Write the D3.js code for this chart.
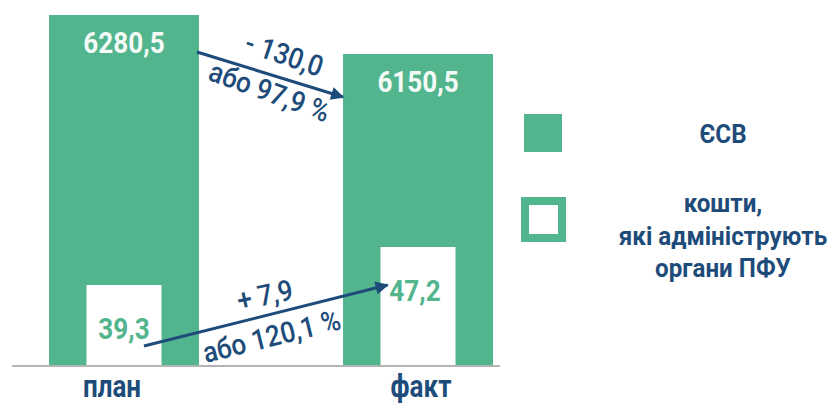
<!DOCTYPE html>
<html>
<head>
<meta charset="utf-8">
<script src="https://cdn.jsdelivr.net/npm/d3@7"></script>
<style>
  body { margin: 0; background: #fff; }
  text { font-family: "Roboto", "Liberation Sans", sans-serif; }
</style>
</head>
<body>
<div id="chart"></div>
<script>
var w = 837;
var h = 405;

var categories = ["план", "факт"];
var esvValues = [6280.5, 6150.5];
var pfuValues = [39.3, 47.2];
var esvLabels = ["6280,5", "6150,5"];
var pfuLabels = ["39,3", "47,2"];
var changeLabels = ["- 130,0", "+ 7,9"];
var percentLabels = ["або 97,9 %", "або 120,1 %"];
var legendLabels = [["ЄСВ"], ["кошти,", "які адмініструють", "органи ПФУ"]];

var green = "#52b58e";
var navy = "#1e4c7a";
var baseY = 365;
var narrow = 0.87; // the source font is a condensed one

var svg = d3.select("#chart")
	.append("svg")
	.attr("width", w)
	.attr("height", h);

// band scale for the two columns
var xScale = d3.scaleBand()
	.domain(categories)
	.range([49, 493])
	.paddingInner(0.49)
	.paddingOuter(0);

// the picture is not drawn from zero, so each series gets a cut scale
var yEsv = d3.scaleLinear()
	.domain([5114, 6280.5])
	.range([baseY, 15]);

var yPfu = d3.scaleLinear()
	.domain([22.67, 47.2])
	.range([baseY, 247]);

var bw = xScale.bandwidth();

function tr(x, y, sx) {
	return "translate(" + x + "," + y + ") scale(" + sx + ",1)";
}

svg.selectAll("rect.esv")
	.data(esvValues)
	.enter()
	.append("rect")
	.attr("class", "esv")
	.attr("x", function (d, i) { return xScale(categories[i]); })
	.attr("y", function (d) { return yEsv(d); })
	.attr("width", bw)
	.attr("height", function (d) { return baseY - yEsv(d); })
	.attr("fill", green);

svg.selectAll("rect.pfu")
	.data(pfuValues)
	.enter()
	.append("rect")
	.attr("class", "pfu")
	.attr("x", function (d, i) { return xScale(categories[i]) + bw / 4; })
	.attr("y", function (d) { return yPfu(d); })
	.attr("width", bw / 2)
	.attr("height", function (d) { return baseY - yPfu(d); })
	.attr("fill", "#fff");

// baseline
svg.append("line")
	.attr("x1", 12)
	.attr("x2", 500)
	.attr("y1", baseY + 1)
	.attr("y2", baseY + 1)
	.attr("stroke", "#b4b4b4")
	.attr("stroke-width", 2);

svg.selectAll("text.esvLabel")
	.data(esvValues)
	.enter()
	.append("text")
	.attr("class", "esvLabel")
	.text(function (d, i) { return esvLabels[i]; })
	.attr("transform", function (d, i) { return tr(xScale(categories[i]) + bw / 2, yEsv(d) + 38, narrow); })
	.attr("text-anchor", "middle")
	.attr("font-size", "30px")
	.attr("font-weight", "bold")
	.attr("fill", "#f4fbf7");

svg.selectAll("text.pfuLabel")
	.data(pfuValues)
	.enter()
	.append("text")
	.attr("class", "pfuLabel")
	.text(function (d, i) { return pfuLabels[i]; })
	.attr("transform", function (d, i) { return tr(xScale(categories[i]) + bw / 2 - 3 * i, yPfu(d) + 54, narrow); })
	.attr("text-anchor", "middle")
	.attr("font-size", "30px")
	.attr("font-weight", "bold")
	.attr("fill", green);

svg.selectAll("text.cat")
	.data(categories)
	.enter()
	.append("text")
	.attr("class", "cat")
	.text(function (d) { return d; })
	.attr("transform", function (d, i) { return tr(xScale(d) + bw / 2 - 12 + 15 * i, 397, 0.84); })
	.attr("text-anchor", "middle")
	.attr("font-size", "31px")
	.attr("font-weight", "bold")
	.attr("fill", navy);

// arrows
svg.append("defs").append("marker")
	.attr("id", "head")
	.attr("viewBox", "0 0 10 10")
	.attr("refX", 9)
	.attr("refY", 5)
	.attr("markerWidth", 5)
	.attr("markerHeight", 4.4)
	.attr("orient", "auto")
	.append("path")
	.attr("d", "M0,0L10,5L0,10z")
	.attr("fill", navy);

var xPlan = xScale(categories[0]);
var xFact = xScale(categories[1]);
var arrows = [
	[[xPlan + bw - 2, yEsv(esvValues[0]) + 37], [xFact, yEsv(esvValues[1]) + 43]],
	[[xPlan + bw / 2 + 20, yPfu(pfuValues[0]) + 61], [xFact + bw / 4 + 7, yPfu(pfuValues[1]) + 38]]
];

svg.selectAll("line.arrow")
	.data(arrows)
	.enter()
	.append("line")
	.attr("class", "arrow")
	.attr("x1", function (d) { return d[0][0]; })
	.attr("y1", function (d) { return d[0][1]; })
	.attr("x2", function (d) { return d[1][0]; })
	.attr("y2", function (d) { return d[1][1]; })
	.attr("stroke", navy)
	.attr("stroke-width", 3)
	.attr("marker-end", "url(#head)");

// rotated notes above and below each arrow
var notes = [
	{ t: changeLabels[0], x: 281, y: 64, a: 19 },
	{ t: percentLabels[0], x: 266, y: 101, a: 20 },
	{ t: changeLabels[1], x: 267, y: 305, a: -12 },
	{ t: percentLabels[1], x: 274, y: 346, a: -14 }
];

svg.selectAll("text.note")
	.data(notes)
	.enter()
	.append("text")
	.attr("class", "note")
	.text(function (d) { return d.t; })
	.attr("text-anchor", "middle")
	.attr("transform", function (d) { return "translate(" + d.x + "," + d.y + ") rotate(" + d.a + ") scale(0.9,1)"; })
	.attr("font-size", "29px")
	.attr("font-weight", 500)
	.attr("fill", navy);

// legend
svg.append("rect")
	.attr("x", 524).attr("y", 114)
	.attr("width", 38).attr("height", 38)
	.attr("fill", green);

svg.append("rect")
	.attr("x", 525).attr("y", 201)
	.attr("width", 37).attr("height", 37)
	.attr("fill", "#fff")
	.attr("stroke", green)
	.attr("stroke-width", 8);

var legendY = [[143], [212, 245, 277]];
legendLabels.forEach(function (lines, i) {
	svg.selectAll(null)
		.data(lines)
		.enter()
		.append("text")
		.text(function (d) { return d; })
		.attr("transform", function (d, j) { return tr(723, legendY[i][j], 0.93); })
		.attr("text-anchor", "middle")
		.attr("font-size", "26px")
		.attr("font-weight", "bold")
		.attr("fill", navy);
});
</script>
</body>
</html>
